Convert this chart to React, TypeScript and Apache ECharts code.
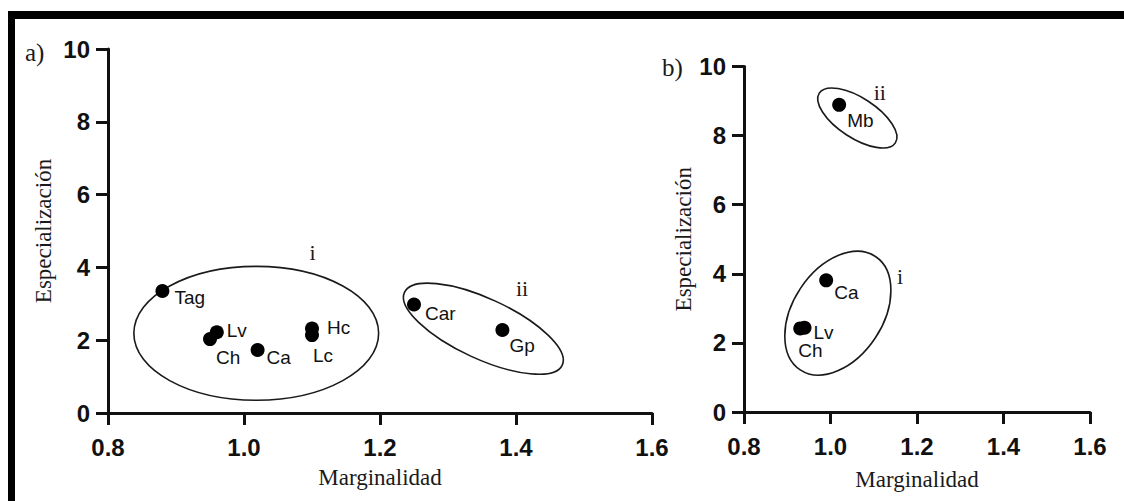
import React, { useEffect, useRef } from "react";
import * as echarts from "echarts";

// ---------- Panel a data ----------
const namesA = ["Tag", "Lv", "Ch", "Ca", "Hc", "Lc", "Car", "Gp"];
const margA = [0.88, 0.96, 0.95, 1.02, 1.10, 1.10, 1.25, 1.38];
const espA = [3.35, 2.22, 2.03, 1.73, 2.32, 2.14, 2.98, 2.28];

// ---------- Panel b data ----------
const namesB = ["Ca", "Lv", "Ch", "Mb"];
const margB = [0.99, 0.94, 0.93, 1.02];
const espB = [3.81, 2.44, 2.42, 8.89];

// ---------- Axis ticks ----------
const xTicks = [0.8, 1.0, 1.2, 1.4, 1.6];
const yTicks = [0, 2, 4, 6, 8, 10];

// ---------- Group ellipses (data coords): name, center, major-axis tip, minor/major ratio, label pos ----------
const groupNamesA = ["i", "ii"];
const groupCenterA = [[1.018, 2.19], [1.352, 2.315]];
const groupTipA = [[1.198, 2.19], [1.468, 1.315]];
const groupRatioA = [0.547, 0.347];
const groupLabelA = [[1.101, 4.41], [1.409, 3.42]];

const groupNamesB = ["i", "ii"];
const groupCenterB = [[1.017, 2.86], [1.062, 8.51]];
const groupTipB = [[1.104, 4.5], [1.15, 7.79]];
const groupRatioB = [0.66, 0.44];
const groupLabelB = [[1.161, 3.93], [1.114, 9.24]];

// label offsets (px) relative to the dot centre
const labelOffsetA: Record<string, [number, number]> = {
  Tag: [12, 6], Lv: [10, -2], Ch: [6, 18], Ca: [9, 7], Hc: [15, -1], Lc: [1, 20], Car: [11, 9], Gp: [7, 15],
};
const labelOffsetB: Record<string, [number, number]> = {
  Ca: [8, 12], Lv: [9, 5], Ch: [-2, 22], Mb: [8, 16],
};

const SANS = "'Liberation Sans', Arial, sans-serif";
const SERIF = "'Liberation Serif', 'Times New Roman', serif";

function makeAxes(gridIndex: number, xGap: number, yGap: number) {
  const xAxis = {
    type: "value",
    gridIndex,
    min: xTicks[0],
    max: xTicks[xTicks.length - 1],
    interval: 0.2,
    name: "Marginalidad",
    nameLocation: "middle",
    nameGap: xGap,
    nameTextStyle: { fontFamily: SERIF, fontSize: 23, color: "#1a1a1a" },
    axisLine: { show: true, lineStyle: { color: "#111", width: 3 } },
    axisTick: { show: true, length: 12, lineStyle: { color: "#111", width: 3 } },
    axisLabel: {
      margin: 22,
      fontFamily: SANS,
      fontWeight: "bold",
      fontSize: 24,
      color: "#111",
      formatter: (v: number) => v.toFixed(1),
    },
    splitLine: { show: false },
  };
  const yAxis = {
    type: "value",
    gridIndex,
    min: yTicks[0],
    max: yTicks[yTicks.length - 1],
    interval: 2,
    name: "Especialización",
    nameLocation: "middle",
    nameGap: yGap,
    nameTextStyle: { fontFamily: SERIF, fontSize: 23, color: "#1a1a1a" },
    axisLine: { show: true, lineStyle: { color: "#111", width: 3 } },
    axisTick: { show: true, length: 12, lineStyle: { color: "#111", width: 3 } },
    axisLabel: { margin: 18, fontFamily: SANS, fontWeight: "bold", fontSize: 24, color: "#111" },
    splitLine: { show: false },
  };
  return { xAxis, yAxis };
}

function scatterSeries(idx: number, names: string[], xs: number[], ys: number[], offs: Record<string, [number, number]>) {
  return {
    type: "scatter",
    xAxisIndex: idx,
    yAxisIndex: idx,
    symbol: "circle",
    symbolSize: 14,
    itemStyle: { color: "#000", opacity: 1 },
    emphasis: { disabled: true },
    z: 5,
    data: names.map((n, i) => ({
      name: n,
      value: [xs[i], ys[i]],
      label: {
        show: true,
        formatter: n,
        position: "inside",
        align: "left",
        verticalAlign: "middle",
        offset: offs[n] || [10, 0],
        fontFamily: SANS,
        fontSize: 19,
        color: "#111",
        opacity: 1,
      },
    })),
  };
}

function ellipseSeries(idx: number, names: string[], centers: number[][], tips: number[][], ratios: number[], labels: number[][]) {
  return {
    type: "custom",
    xAxisIndex: idx,
    yAxisIndex: idx,
    clip: false,
    z: 2,
    silent: true,
    data: names.map((n, i) => [centers[i][0], centers[i][1], tips[i][0], tips[i][1], ratios[i], labels[i][0], labels[i][1]]),
    renderItem: (params: any, api: any) => {
      const c = api.coord([api.value(0), api.value(1)]);
      const t = api.coord([api.value(2), api.value(3)]);
      const l = api.coord([api.value(5), api.value(6)]);
      const dx = t[0] - c[0];
      const dy = t[1] - c[1];
      const a = Math.hypot(dx, dy);
      const b = a * api.value(4);
      const rot = -Math.atan2(dy, dx);
      return {
        type: "group",
        children: [
          {
            type: "ellipse",
            x: c[0],
            y: c[1],
            rotation: rot,
            shape: { cx: 0, cy: 0, rx: a, ry: b },
            style: { fill: "none", stroke: "#1a1a1a", lineWidth: 1.6 },
          },
          {
            type: "text",
            x: l[0],
            y: l[1],
            style: {
              text: names[params.dataIndex],
              fontFamily: SERIF,
              fontSize: 22,
              fill: "#1a1a1a",
              align: "center",
              verticalAlign: "middle",
            },
          },
        ],
      };
    },
  };
}

export default function App() {
  const ref = useRef<HTMLDivElement>(null);
  useEffect(() => {
    if (!ref.current) return;
    const chart = echarts.init(ref.current, undefined, { renderer: "svg" });
    const a = makeAxes(0, 53, 53);
    const b = makeAxes(1, 56, 47);
    chart.setOption({
      animation: false,
      backgroundColor: "#fff",
      grid: [
        { left: 108, top: 49, width: 544, height: 364 },
        { left: 744, top: 66.5, width: 346, height: 345.5 },
      ],
      xAxis: [a.xAxis, b.xAxis],
      yAxis: [a.yAxis, b.yAxis],
      series: [
        ellipseSeries(0, groupNamesA, groupCenterA, groupTipA, groupRatioA, groupLabelA),
        ellipseSeries(1, groupNamesB, groupCenterB, groupTipB, groupRatioB, groupLabelB),
        scatterSeries(0, namesA, margA, espA, labelOffsetA),
        scatterSeries(1, namesB, margB, espB, labelOffsetB),
      ],
      graphic: [
        { type: "rect", shape: { x: 8, y: 11, width: 1116, height: 8 }, style: { fill: "#000" } },
        { type: "rect", shape: { x: 8, y: 11, width: 7, height: 490 }, style: { fill: "#000" } },
        {
          type: "text",
          x: 25,
          y: 52,
          style: { text: "a)", fontFamily: SERIF, fontSize: 25, fill: "#1a1a1a", verticalAlign: "middle" },
        },
        {
          type: "text",
          x: 662,
          y: 67,
          style: { text: "b)", fontFamily: SERIF, fontSize: 25, fill: "#1a1a1a", verticalAlign: "middle" },
        },
      ],
    });
    return () => chart.dispose();
  }, []);
  return (
    <div
      ref={ref}
      style={{ position: "fixed", left: 0, top: 0, width: 1124, height: 501, background: "#fff" }}
    />
  );
}
